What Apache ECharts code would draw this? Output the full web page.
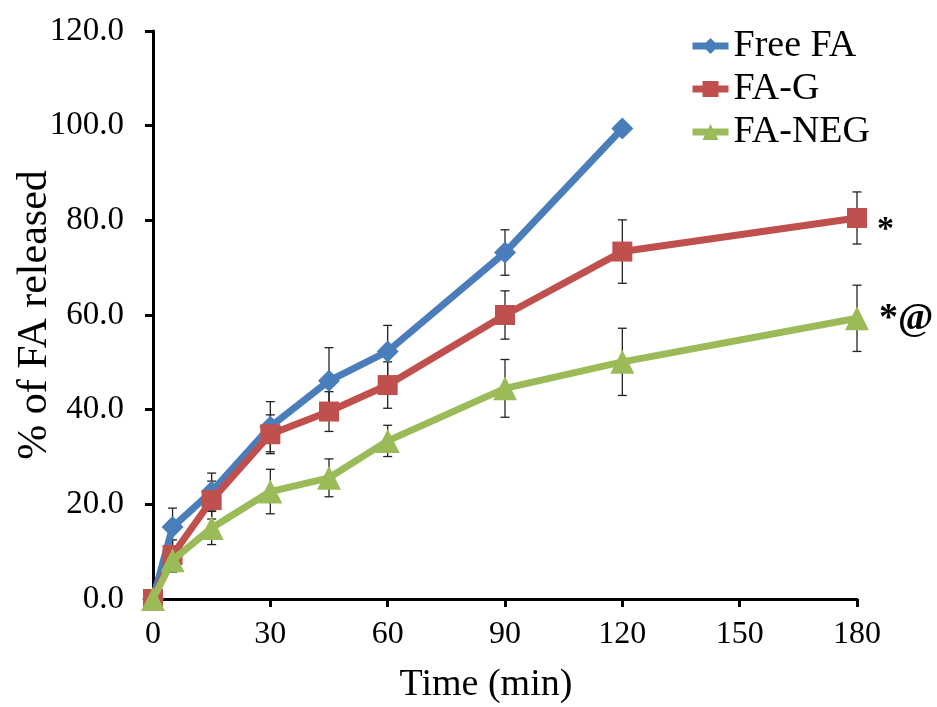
<!DOCTYPE html>
<html>
<head>
<meta charset="utf-8">
<script src="https://cdn.jsdelivr.net/npm/echarts@6/dist/echarts.min.js"></script>
<style>
  html, body { margin: 0; padding: 0; background: #fff; }
  #chart { width: 937px; height: 707px; }
</style>
</head>
<body>
<div id="chart"></div>
<script>
// Sampling times (min)
const times = [0, 5, 15, 30, 45, 60, 90, 120, 180];
const xTicks = [0, 30, 60, 90, 120, 150, 180];

// Cumulative release (%) and standard deviations
const freeFA    = [0, 15.2, 22.7, 36.4, 46.1, 52.3, 73.2, 99.4];
const freeFAErr = [0, 4.0, 3.9, 5.3, 7.0, 5.5, 4.8, 0];
const faG       = [0, 9.3, 20.9, 34.8, 39.6, 45.2, 60.0, 73.4, 80.5];
const faGErr    = [0, 3.2, 4.0, 4.1, 4.2, 4.9, 5.1, 6.7, 5.5];
const faNEG     = [0, 8.2, 15.0, 22.7, 25.6, 33.4, 44.5, 50.1, 59.3];
const faNEGErr  = [0, 2.5, 3.5, 4.7, 4.0, 3.3, 6.1, 7.1, 7.0];

// Significance marks next to the last points
const gMark = '*';
const negMark = '*@';

const serif = '"Liberation Serif", "Times New Roman", serif';

function pairs(vals, marks, fontSize, dy) {
  return vals.map((v, i) => {
    const item = { value: [times[i], v] };
    if (marks && i === vals.length - 1) {
      item.label = {
        show: true, formatter: marks, position: 'right', distance: 10,
        offset: [0, dy],
        color: '#000', fontFamily: serif, fontSize: fontSize, fontWeight: 'bold'
      };
    }
    return item;
  });
}

function errData(vals, errs) {
  return vals.map((v, i) => [times[i], v - errs[i], v + errs[i]]);
}

function errorSeries(vals, errs, z) {
  return {
    type: 'custom',
    data: errData(vals, errs),
    z: z,
    silent: true,
    encode: { x: 0, y: [1, 2] },
    renderItem: function (params, api) {
      const lo = api.coord([api.value(0), api.value(1)]);
      const hi = api.coord([api.value(0), api.value(2)]);
      if (Math.abs(hi[1] - lo[1]) < 1) return null;
      const cap = 4.5;
      const style = { stroke: '#222', lineWidth: 1.3 };
      return {
        type: 'group',
        children: [
          { type: 'line', shape: { x1: lo[0], y1: lo[1], x2: hi[0], y2: hi[1] }, style: style },
          { type: 'line', shape: { x1: lo[0] - cap, y1: lo[1], x2: lo[0] + cap, y2: lo[1] }, style: style },
          { type: 'line', shape: { x1: hi[0] - cap, y1: hi[1], x2: hi[0] + cap, y2: hi[1] }, style: style }
        ]
      };
    }
  };
}

const chart = echarts.init(document.getElementById('chart'));
chart.setOption({
  animation: false,
  backgroundColor: '#fff',
  grid: { left: 153, right: 80, top: 31, bottom: 108, containLabel: false, outerBoundsMode: 'none' },
  legend: {
    orient: 'vertical',
    left: 684, top: 22,
    itemWidth: 36, itemHeight: 20, itemGap: 5,
    lineStyle: { width: 7 },
    textStyle: { fontFamily: serif, fontSize: 38, color: '#000' },
    data: ['Free FA', 'FA-G', 'FA-NEG']
  },
  xAxis: {
    type: 'value', min: 0, max: 180, interval: 30,
    name: 'Time (min)', nameLocation: 'middle', nameGap: 67,
    nameMoveOverlap: false,
    nameTextStyle: { fontFamily: serif, fontSize: 38, color: '#000', padding: [0, 38, 0, 0] },
    axisLine: { lineStyle: { color: '#000', width: 3 } },
    axisTick: { show: true, length: 8, lineStyle: { color: '#000', width: 3 } },
    axisLabel: {
      fontFamily: serif, fontSize: 32, color: '#000', margin: 20,
      formatter: v => (xTicks.includes(v) ? String(v) : '')
    },
    splitLine: { show: false }
  },
  yAxis: {
    type: 'value', min: 0, max: 120, interval: 20,
    name: '% of FA released', nameLocation: 'middle', nameGap: 97, nameRotate: 90,
    nameMoveOverlap: false,
    nameTextStyle: { fontFamily: serif, fontSize: 42, color: '#000' },
    axisLine: { show: true, lineStyle: { color: '#000', width: 3 } },
    axisTick: { show: true, length: 8, lineStyle: { color: '#000', width: 3 } },
    axisLabel: {
      fontFamily: serif, fontSize: 33, color: '#000', margin: 29,
      formatter: v => v.toFixed(1)
    },
    splitLine: { show: false }
  },
  series: [
    errorSeries(freeFA, freeFAErr, 1),
    errorSeries(faG, faGErr, 1),
    errorSeries(faNEG, faNEGErr, 1),
    {
      name: 'Free FA', type: 'line', data: pairs(freeFA), z: 3,
      clip: false,
      symbol: 'diamond', symbolSize: 22,
      lineStyle: { color: '#4A7EBB', width: 7 },
      itemStyle: { color: '#4A7EBB' }
    },
    {
      name: 'FA-G', type: 'line', data: pairs(faG, gMark, 34, 12), z: 4,
      clip: false,
      symbol: 'rect', symbolSize: 20,
      lineStyle: { color: '#C0504D', width: 7 },
      itemStyle: { color: '#C0504D' }
    },
    {
      name: 'FA-NEG', type: 'line', data: pairs(faNEG, negMark, 38, 1), z: 5,
      clip: false,
      symbol: 'triangle', symbolSize: 24,
      lineStyle: { color: '#9BBB59', width: 7 },
      itemStyle: { color: '#9BBB59' }
    }
  ]
});
</script>
</body>
</html>
